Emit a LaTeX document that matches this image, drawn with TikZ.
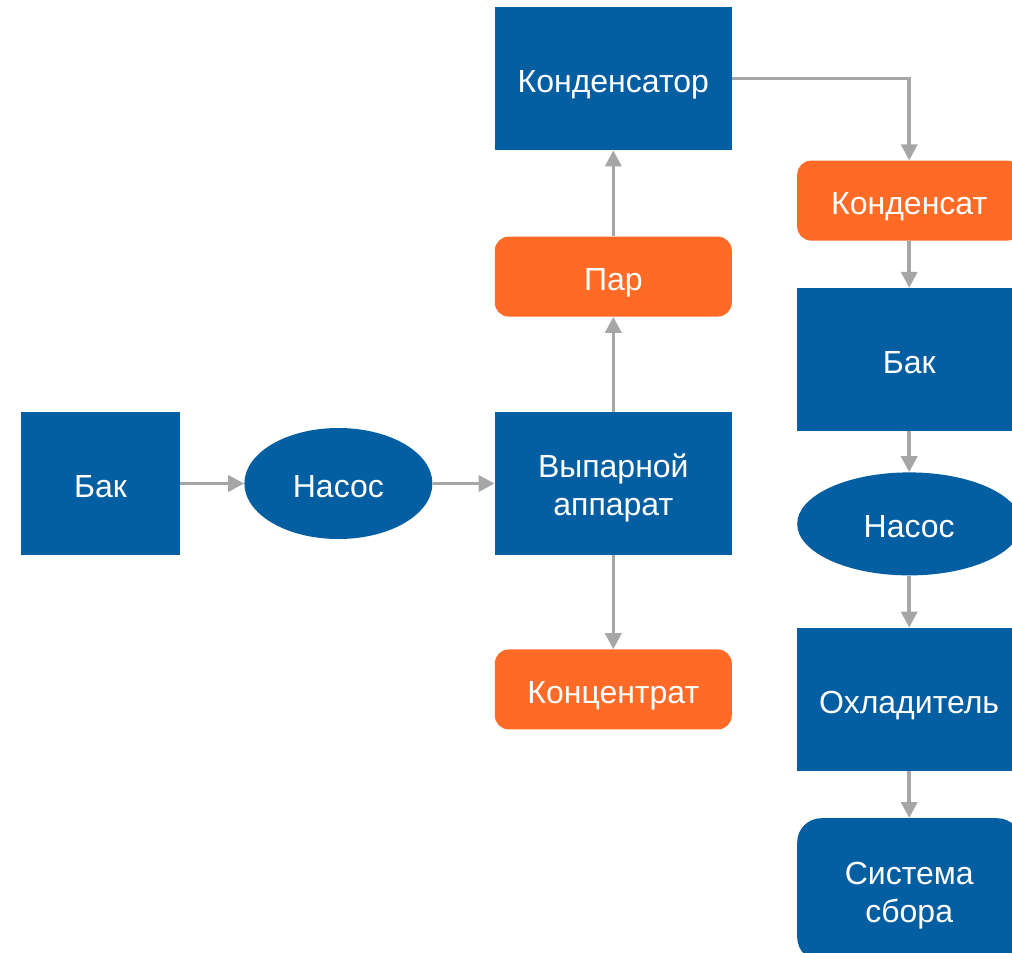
\documentclass[tikz,border=0pt]{standalone}
\usepackage{fontspec}
\setmainfont{Liberation Sans}
\usetikzlibrary{positioning,arrows.meta,shapes.geometric}
\definecolor{procblue}{HTML}{045EA2}
\definecolor{flowor}{HTML}{FF6A26}
\definecolor{pipegray}{HTML}{A6A6A6}
\newcommand{\twolines}[2]{\raisebox{2pt}[0pt][0pt]{\begin{tabular}{@{}c@{}}#1\\#2\end{tabular}}}
\begin{document}
\begin{tikzpicture}[
    lbl/.style={text=white, inner sep=0pt, font=\fontsize{32}{38}\selectfont,
        execute at begin node={\rule{0pt}{34pt}}, execute at end node={\rule[-6pt]{0pt}{0pt}}},
    box/.style={lbl, rectangle, fill=procblue},
    oval/.style={lbl, ellipse, fill=procblue},
    outbox/.style={lbl, rectangle, fill=flowor, rounded corners=14pt},
    arrow/.style={-{Triangle[length=16pt, width=16pt]}, pipegray, line width=3.5pt}
]
\useasboundingbox (0pt,0pt) rectangle (1012pt,-953pt);
% left line
\node[box, minimum width=159pt, minimum height=143pt] (bak) at (100.5pt,-483.5pt) {Бак};
\node[oval, minimum width=188pt, minimum height=111pt, right=64pt of bak] (nasos) {Насос};
\node[box, minimum width=237pt, minimum height=143pt, right=62pt of nasos] (vyp) {\twolines{Выпарной}{аппарат}};
\node[outbox, minimum width=237pt, minimum height=80pt, above=95pt of vyp] (par) {Пар};
\node[box, minimum width=237pt, minimum height=143pt, above=86pt of par] (kond) {Конденсатор};
\node[outbox, minimum width=237pt, minimum height=80pt, below=94pt of vyp] (konc) {Концентрат};
% right column
\node[outbox, minimum width=224pt, minimum height=80pt, below right=10pt and 65pt of kond.south east] (kondensat) {Конденсат};
\node[box, minimum width=224pt, minimum height=143pt, below=47pt of kondensat] (bakk) {Бак};
\node[oval, minimum width=224pt, minimum height=103pt, below=41pt of bakk] (nasosk) {Насос};
\node[box, minimum width=224pt, minimum height=143pt, below=52pt of nasosk] (ohl) {Охладитель};
\node[box, rounded corners=24pt, minimum width=224pt, minimum height=143pt, below=47pt of ohl] (sbor) {\twolines{Система}{сбора}};
\draw[arrow] (bak) -- (nasos);
\draw[arrow] (nasos) -- (vyp);
\draw[arrow] (vyp) -- (par);
\draw[arrow] (par) -- (kond);
\draw[arrow] (vyp) -- (konc);
\draw[arrow] (kond.east) -| (kondensat.north);
\draw[arrow] (kondensat) -- (bakk);
\draw[arrow] (bakk) -- (nasosk);
\draw[arrow] (nasosk) -- (ohl);
\draw[arrow] (ohl) -- (sbor);
\end{tikzpicture}
\end{document}
